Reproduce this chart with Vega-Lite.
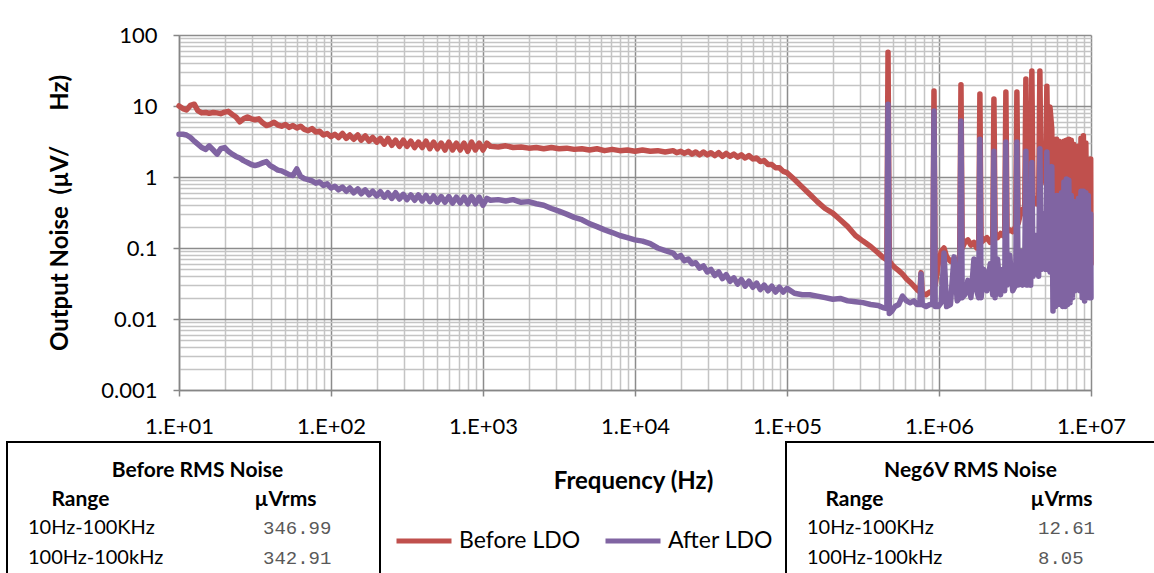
{
  "$schema": "https://vega.github.io/schema/vega-lite/v6.json",
  "background": "#ffffff",
  "autosize": {"type": "pad"},
  "padding": {"left": 6, "top": 24, "right": 0, "bottom": 0},
  "config": {
    "font": "Lato",
    "view": {"stroke": null},
    "axis": {"labelFont": "Lato", "titleFont": "Lato", "labelColor": "#000000", "titleColor": "#000000"}
  },
  "spacing": 4,
  "vconcat": [
    {
      "spacing": 72,
      "bounds": "flush",
      "hconcat": [
        {"width": 100, "height": 355, "data": {"values": []}, "mark": "point"},
        {
          "width": 912,
          "height": 355,
          "data": {"values": [
            {"f":10,"Before LDO":10.0,"After LDO":4.0},
            {"f":10.6,"Before LDO":9.2,"After LDO":4.0},
            {"f":11.2,"Before LDO":8.8,"After LDO":3.9},
            {"f":11.9,"Before LDO":10.2,"After LDO":3.6},
            {"f":12.6,"Before LDO":10.6,"After LDO":3.2},
            {"f":13.3,"Before LDO":8.6,"After LDO":2.9},
            {"f":14.1,"Before LDO":8.0,"After LDO":2.6},
            {"f":15.0,"Before LDO":8.1,"After LDO":2.45},
            {"f":15.8,"Before LDO":7.9,"After LDO":2.75},
            {"f":16.8,"Before LDO":8.1,"After LDO":2.4},
            {"f":17.8,"Before LDO":8.0,"After LDO":2.1},
            {"f":18.8,"Before LDO":7.8,"After LDO":2.5},
            {"f":20.0,"Before LDO":8.2,"After LDO":2.6},
            {"f":21.1,"Before LDO":8.4,"After LDO":2.3},
            {"f":22.4,"Before LDO":7.6,"After LDO":2.1},
            {"f":23.7,"Before LDO":7.0,"After LDO":1.95},
            {"f":25.1,"Before LDO":6.0,"After LDO":1.85},
            {"f":26.6,"Before LDO":6.6,"After LDO":1.7},
            {"f":28.2,"Before LDO":7.0,"After LDO":1.6},
            {"f":29.9,"Before LDO":6.6,"After LDO":1.5},
            {"f":31.6,"Before LDO":6.4,"After LDO":1.45},
            {"f":33.5,"Before LDO":6.6,"After LDO":1.5},
            {"f":35.5,"Before LDO":5.8,"After LDO":1.58},
            {"f":37.6,"Before LDO":5.3,"After LDO":1.65},
            {"f":39.8,"Before LDO":5.5,"After LDO":1.45},
            {"f":42.2,"Before LDO":5.9,"After LDO":1.35},
            {"f":44.7,"Before LDO":5.4,"After LDO":1.25},
            {"f":47.3,"Before LDO":5.2,"After LDO":1.22},
            {"f":50.1,"Before LDO":5.5,"After LDO":1.15},
            {"f":53.1,"Before LDO":5.0,"After LDO":1.08},
            {"f":56.2,"Before LDO":5.3,"After LDO":1.05},
            {"f":59.6,"Before LDO":4.9,"After LDO":1.3},
            {"f":63.1,"Before LDO":5.2,"After LDO":1.02},
            {"f":66.8,"Before LDO":4.7,"After LDO":0.95},
            {"f":70.8,"Before LDO":4.5,"After LDO":0.92},
            {"f":75.0,"Before LDO":4.8,"After LDO":0.88},
            {"f":79.4,"Before LDO":4.3,"After LDO":0.82},
            {"f":84.1,"Before LDO":4.4,"After LDO":0.85},
            {"f":89.1,"Before LDO":3.9,"After LDO":0.76},
            {"f":94.4,"Before LDO":4.1,"After LDO":0.8},
            {"f":100,"Before LDO":3.7,"After LDO":0.7},
            {"f":106,"Before LDO":4.0,"After LDO":0.74},
            {"f":112,"Before LDO":3.6,"After LDO":0.66},
            {"f":119,"Before LDO":4.1,"After LDO":0.72},
            {"f":126,"Before LDO":3.5,"After LDO":0.63},
            {"f":133,"Before LDO":3.9,"After LDO":0.7},
            {"f":141,"Before LDO":3.4,"After LDO":0.6},
            {"f":150,"Before LDO":3.9,"After LDO":0.68},
            {"f":158,"Before LDO":3.3,"After LDO":0.58},
            {"f":168,"Before LDO":3.8,"After LDO":0.66},
            {"f":178,"Before LDO":3.2,"After LDO":0.56},
            {"f":188,"Before LDO":3.6,"After LDO":0.63},
            {"f":200,"Before LDO":3.1,"After LDO":0.54},
            {"f":211,"Before LDO":3.5,"After LDO":0.62},
            {"f":224,"Before LDO":2.9,"After LDO":0.52},
            {"f":237,"Before LDO":3.5,"After LDO":0.6},
            {"f":251,"Before LDO":2.8,"After LDO":0.5},
            {"f":266,"Before LDO":3.3,"After LDO":0.6},
            {"f":282,"Before LDO":2.7,"After LDO":0.49},
            {"f":299,"Before LDO":3.3,"After LDO":0.57},
            {"f":316,"Before LDO":2.7,"After LDO":0.48},
            {"f":335,"Before LDO":3.2,"After LDO":0.56},
            {"f":355,"Before LDO":2.6,"After LDO":0.47},
            {"f":376,"Before LDO":3.1,"After LDO":0.56},
            {"f":398,"Before LDO":2.6,"After LDO":0.46},
            {"f":422,"Before LDO":3.2,"After LDO":0.55},
            {"f":447,"Before LDO":2.5,"After LDO":0.45},
            {"f":473,"Before LDO":3.1,"After LDO":0.54},
            {"f":501,"Before LDO":2.5,"After LDO":0.44},
            {"f":531,"Before LDO":3.0,"After LDO":0.53},
            {"f":562,"Before LDO":2.4,"After LDO":0.44},
            {"f":596,"Before LDO":3.1,"After LDO":0.53},
            {"f":631,"Before LDO":2.4,"After LDO":0.43},
            {"f":668,"Before LDO":3.0,"After LDO":0.52},
            {"f":708,"Before LDO":2.4,"After LDO":0.43},
            {"f":750,"Before LDO":3.0,"After LDO":0.52},
            {"f":794,"Before LDO":2.3,"After LDO":0.42},
            {"f":841,"Before LDO":3.1,"After LDO":0.53},
            {"f":891,"Before LDO":2.4,"After LDO":0.42},
            {"f":944,"Before LDO":3.0,"After LDO":0.52},
            {"f":1000,"Before LDO":2.4,"After LDO":0.4},
            {"f":1060,"Before LDO":3.0,"After LDO":0.5},
            {"f":1120,"Before LDO":2.7,"After LDO":0.47},
            {"f":1260,"Before LDO":2.65,"After LDO":0.48},
            {"f":1410,"Before LDO":2.75,"After LDO":0.46},
            {"f":1580,"Before LDO":2.6,"After LDO":0.48},
            {"f":1780,"Before LDO":2.65,"After LDO":0.44},
            {"f":2000,"Before LDO":2.55,"After LDO":0.45},
            {"f":2240,"Before LDO":2.6,"After LDO":0.42},
            {"f":2510,"Before LDO":2.5,"After LDO":0.4},
            {"f":2820,"Before LDO":2.6,"After LDO":0.36},
            {"f":3160,"Before LDO":2.5,"After LDO":0.33},
            {"f":3550,"Before LDO":2.55,"After LDO":0.3},
            {"f":3980,"Before LDO":2.45,"After LDO":0.27},
            {"f":4470,"Before LDO":2.5,"After LDO":0.25},
            {"f":5010,"Before LDO":2.4,"After LDO":0.22},
            {"f":5620,"Before LDO":2.5,"After LDO":0.2},
            {"f":6310,"Before LDO":2.35,"After LDO":0.18},
            {"f":7080,"Before LDO":2.45,"After LDO":0.165},
            {"f":7940,"Before LDO":2.35,"After LDO":0.15},
            {"f":8910,"Before LDO":2.4,"After LDO":0.14},
            {"f":10000,"Before LDO":2.3,"After LDO":0.13},
            {"f":11200,"Before LDO":2.4,"After LDO":0.125},
            {"f":12600,"Before LDO":2.3,"After LDO":0.115},
            {"f":14100,"Before LDO":2.35,"After LDO":0.1},
            {"f":15800,"Before LDO":2.25,"After LDO":0.092},
            {"f":17800,"Before LDO":2.35,"After LDO":0.085},
            {"f":18800,"Before LDO":2.2,"After LDO":0.074},
            {"f":20000,"Before LDO":2.3,"After LDO":0.078},
            {"f":21100,"Before LDO":2.15,"After LDO":0.066},
            {"f":22400,"Before LDO":2.3,"After LDO":0.07},
            {"f":23700,"Before LDO":2.1,"After LDO":0.06},
            {"f":25100,"Before LDO":2.25,"After LDO":0.062},
            {"f":26600,"Before LDO":2.05,"After LDO":0.052},
            {"f":28200,"Before LDO":2.25,"After LDO":0.056},
            {"f":29900,"Before LDO":2.05,"After LDO":0.046},
            {"f":31600,"Before LDO":2.2,"After LDO":0.05},
            {"f":33500,"Before LDO":2.0,"After LDO":0.041},
            {"f":35500,"Before LDO":2.2,"After LDO":0.046},
            {"f":37600,"Before LDO":1.95,"After LDO":0.037},
            {"f":39800,"Before LDO":2.15,"After LDO":0.042},
            {"f":42200,"Before LDO":1.95,"After LDO":0.034},
            {"f":44700,"Before LDO":2.1,"After LDO":0.038},
            {"f":47300,"Before LDO":1.9,"After LDO":0.031},
            {"f":50100,"Before LDO":2.05,"After LDO":0.036},
            {"f":53100,"Before LDO":1.85,"After LDO":0.029},
            {"f":56200,"Before LDO":2.0,"After LDO":0.034},
            {"f":59600,"Before LDO":1.8,"After LDO":0.028},
            {"f":63100,"Before LDO":1.85,"After LDO":0.032},
            {"f":66800,"Before LDO":1.65,"After LDO":0.026},
            {"f":70800,"Before LDO":1.7,"After LDO":0.03},
            {"f":75000,"Before LDO":1.5,"After LDO":0.025},
            {"f":79400,"Before LDO":1.5,"After LDO":0.029},
            {"f":84100,"Before LDO":1.35,"After LDO":0.024},
            {"f":89100,"Before LDO":1.35,"After LDO":0.028},
            {"f":94400,"Before LDO":1.2,"After LDO":0.024},
            {"f":100000,"Before LDO":1.15,"After LDO":0.027},
            {"f":112000,"Before LDO":0.92,"After LDO":0.023},
            {"f":126000,"Before LDO":0.72,"After LDO":0.022},
            {"f":141000,"Before LDO":0.57,"After LDO":0.022},
            {"f":158000,"Before LDO":0.45,"After LDO":0.021},
            {"f":178000,"Before LDO":0.36,"After LDO":0.02},
            {"f":200000,"Before LDO":0.31,"After LDO":0.019},
            {"f":224000,"Before LDO":0.25,"After LDO":0.0195},
            {"f":251000,"Before LDO":0.2,"After LDO":0.018},
            {"f":282000,"Before LDO":0.15,"After LDO":0.0175},
            {"f":316000,"Before LDO":0.125,"After LDO":0.017},
            {"f":355000,"Before LDO":0.105,"After LDO":0.016},
            {"f":398000,"Before LDO":0.085,"After LDO":0.0155},
            {"f":427000,"Before LDO":0.074,"After LDO":0.0145},
            {"f":454000,"Before LDO":0.068,"After LDO":0.014},
            {"f":462000,"Before LDO":57,"After LDO":10.6},
            {"f":471000,"Before LDO":0.066,"After LDO":0.012},
            {"f":490000,"Before LDO":0.058,"After LDO":0.013},
            {"f":513000,"Before LDO":0.053,"After LDO":0.015},
            {"f":543000,"Before LDO":0.048,"After LDO":0.016},
            {"f":575000,"Before LDO":0.043,"After LDO":0.021},
            {"f":610000,"Before LDO":0.037,"After LDO":0.018},
            {"f":646000,"Before LDO":0.033,"After LDO":0.017},
            {"f":684000,"Before LDO":0.029,"After LDO":0.018},
            {"f":716000,"Before LDO":0.026,"After LDO":0.016},
            {"f":748000,"Before LDO":0.024,"After LDO":0.016},
            {"f":762000,"Before LDO":0.045,"After LDO":0.043},
            {"f":776000,"Before LDO":0.023,"After LDO":0.016},
            {"f":822000,"Before LDO":0.022,"After LDO":0.015},
            {"f":871000,"Before LDO":0.024,"After LDO":0.016},
            {"f":910000,"Before LDO":0.024,"After LDO":0.016},
            {"f":927000,"Before LDO":16.3,"After LDO":8.5},
            {"f":944000,"Before LDO":0.03,"After LDO":0.015},
            {"f":989000,"Before LDO":0.06,"After LDO":0.015},
            {"f":1035000,"Before LDO":0.09,"After LDO":0.017},
            {"f":1079000,"Before LDO":0.1,"After LDO":0.085},
            {"f":1122000,"Before LDO":0.075,"After LDO":0.015},
            {"f":1189000,"Before LDO":0.065,"After LDO":0.016},
            {"f":1256000,"Before LDO":0.07,"After LDO":0.075},
            {"f":1318000,"Before LDO":0.06,"After LDO":0.018},
            {"f":1369000,"Before LDO":0.08,"After LDO":0.02},
            {"f":1395000,"Before LDO":20,"After LDO":6.15},
            {"f":1421000,"Before LDO":0.1,"After LDO":0.02},
            {"f":1479000,"Before LDO":0.12,"After LDO":0.022},
            {"f":1549000,"Before LDO":0.13,"After LDO":0.035},
            {"f":1622000,"Before LDO":0.11,"After LDO":0.02},
            {"f":1698000,"Before LDO":0.12,"After LDO":0.07},
            {"f":1770000,"Before LDO":0.1,"After LDO":0.025},
            {"f":1824000,"Before LDO":0.1,"After LDO":0.02},
            {"f":1858000,"Before LDO":14.7,"After LDO":3.4},
            {"f":1892000,"Before LDO":0.12,"After LDO":0.02},
            {"f":1972000,"Before LDO":0.13,"After LDO":0.05},
            {"f":2065000,"Before LDO":0.14,"After LDO":0.025},
            {"f":2173000,"Before LDO":0.12,"After LDO":0.06},
            {"f":2256000,"Before LDO":0.13,"After LDO":0.022},
            {"f":2298000,"Before LDO":12.5,"After LDO":2.3},
            {"f":2341000,"Before LDO":0.15,"After LDO":0.02},
            {"f":2427000,"Before LDO":0.14,"After LDO":0.07},
            {"f":2541000,"Before LDO":0.16,"After LDO":0.022},
            {"f":2630000,"Before LDO":0.15,"After LDO":0.05},
            {"f":2704000,"Before LDO":0.16,"After LDO":0.025},
            {"f":2754000,"Before LDO":15.7,"After LDO":3.1},
            {"f":2805000,"Before LDO":0.17,"After LDO":0.03},
            {"f":2917000,"Before LDO":0.18,"After LDO":0.08},
            {"f":3055000,"Before LDO":0.17,"After LDO":0.025},
            {"f":3195000,"Before LDO":0.2,"After LDO":0.03},
            {"f":3254000,"Before LDO":15.7,"After LDO":3.1},
            {"f":3315000,"Before LDO":0.22,"After LDO":0.03},
            {"f":3428000,"Before LDO":0.3,"After LDO":0.09},
            {"f":3548000,"Before LDO":0.35,"After LDO":0.03},
            {"f":3661000,"Before LDO":0.3,"After LDO":0.04},
            {"f":3729000,"Before LDO":24,"After LDO":2.3},
            {"f":3798000,"Before LDO":0.3,"After LDO":0.03},
            {"f":3899000,"Before LDO":0.4,"After LDO":0.1},
            {"f":4009000,"Before LDO":0.35,"After LDO":0.03},
            {"f":4083000,"Before LDO":31,"After LDO":1.6},
            {"f":4159000,"Before LDO":0.4,"After LDO":0.04},
            {"f":4335000,"Before LDO":0.5,"After LDO":0.15},
            {"f":4525000,"Before LDO":0.4,"After LDO":0.04},
            {"f":4609000,"Before LDO":31,"After LDO":2.5},
            {"f":4695000,"Before LDO":0.8,"After LDO":0.05},
            {"f":4864000,"Before LDO":1.5,"After LDO":0.3},
            {"f":5030000,"Before LDO":0.9,"After LDO":0.05},
            {"f":5124000,"Before LDO":19,"After LDO":2.25},
            {"f":5219000,"Before LDO":1.2,"After LDO":0.06},
            {"f":5370000,"Before LDO":9.7,"After LDO":0.046},
            {"f":5521000,"Before LDO":4.7,"After LDO":1.4},
            {"f":5623000,"Before LDO":0.07,"After LDO":0.013},
            {"f":5728000,"Before LDO":3.4,"After LDO":0.5},
            {"f":5834000,"Before LDO":0.06,"After LDO":0.015},
            {"f":5943000,"Before LDO":3.4,"After LDO":0.55},
            {"f":6053000,"Before LDO":0.05,"After LDO":0.016},
            {"f":6166000,"Before LDO":3.2,"After LDO":0.55},
            {"f":6281000,"Before LDO":0.05,"After LDO":0.016},
            {"f":6397000,"Before LDO":3.0,"After LDO":0.6},
            {"f":6516000,"Before LDO":0.05,"After LDO":0.015},
            {"f":6637000,"Before LDO":3.2,"After LDO":0.85},
            {"f":6761000,"Before LDO":0.05,"After LDO":0.015},
            {"f":6887000,"Before LDO":3.3,"After LDO":0.94},
            {"f":7015000,"Before LDO":0.05,"After LDO":0.016},
            {"f":7145000,"Before LDO":3.4,"After LDO":0.9},
            {"f":7278000,"Before LDO":0.05,"After LDO":0.017},
            {"f":7413000,"Before LDO":3.3,"After LDO":0.55},
            {"f":7551000,"Before LDO":0.05,"After LDO":0.02},
            {"f":7691000,"Before LDO":2.9,"After LDO":0.45},
            {"f":7834000,"Before LDO":0.05,"After LDO":0.025},
            {"f":7980000,"Before LDO":2.7,"After LDO":0.4},
            {"f":8128000,"Before LDO":0.05,"After LDO":0.03},
            {"f":8279000,"Before LDO":2.7,"After LDO":0.5},
            {"f":8433000,"Before LDO":0.05,"After LDO":0.025},
            {"f":8590000,"Before LDO":3.5,"After LDO":0.63},
            {"f":8750000,"Before LDO":0.05,"After LDO":0.02},
            {"f":8913000,"Before LDO":3.8,"After LDO":0.63},
            {"f":9078000,"Before LDO":0.05,"After LDO":0.018},
            {"f":9247000,"Before LDO":3.0,"After LDO":0.6},
            {"f":9419000,"Before LDO":0.05,"After LDO":0.02},
            {"f":9594000,"Before LDO":1.6,"After LDO":0.55},
            {"f":9772000,"Before LDO":0.05,"After LDO":0.02},
            {"f":9954000,"Before LDO":1.8,"After LDO":0.3},
            {"f":10000000,"Before LDO":0.06,"After LDO":0.02}
          ]},
          "transform": [{"fold": ["Before LDO", "After LDO"], "as": ["series", "noise"]}],
          "encoding": {
            "x": {
              "field": "f", "type": "quantitative", "title": null,
              "scale": {"type": "log", "domain": [10, 10000000], "nice": false},
              "axis": {
                "values": [10,20,30,40,50,60,70,80,90,100,200,300,400,500,600,700,800,900,1000,2000,3000,4000,5000,6000,7000,8000,9000,10000,20000,30000,40000,50000,60000,70000,80000,90000,100000,200000,300000,400000,500000,600000,700000,800000,900000,1000000,2000000,3000000,4000000,5000000,6000000,7000000,8000000,9000000,10000000],
                "labelExpr": "indexof([10,100,1000,10000,100000,1000000,10000000], datum.value) >= 0 ? '1.E+0' + round(log(datum.value)/LN10) : ''",
                "labelOverlap": false, "labelFlush": false,
                "labelFontSize": 22, "labelPadding": 20,
                "tickSize": 6, "tickColor": "#868686", "tickWidth": 1.5,
                "tickOpacity": {"condition": {"test": "indexof([10,100,1000,10000,100000,1000000,10000000], datum.value) >= 0", "value": 1}, "value": 0},
                "grid": true,
                "gridColor": {"condition": {"test": "indexof([10,100,1000,10000,100000,1000000,10000000], datum.value) >= 0", "value": "#8C8C8C"}, "value": "#C4C4C4"},
                "gridWidth": 1.5, "gridOpacity": 1,
                "domainColor": "#868686", "domainWidth": 1.5
              }
            },
            "y": {
              "field": "noise", "type": "quantitative", "title": "Output Noise \u00a0(µV/\u00a0\u00a0\u00a0\u00a0\u00a0\u00a0Hz)",
              "scale": {"type": "log", "domain": [0.001, 100], "nice": false},
              "axis": {
                "values": [0.001,0.002,0.003,0.004,0.005,0.006,0.007,0.008,0.009,0.01,0.02,0.03,0.04,0.05,0.06,0.07,0.08,0.09,0.1,0.2,0.3,0.4,0.5,0.6,0.7,0.8,0.9,1,2,3,4,5,6,7,8,9,10,20,30,40,50,60,70,80,90,100],
                "labelExpr": "indexof([0.001,0.01,0.1,1,10,100], datum.value) >= 0 ? toString(datum.value) : ''",
                "labelOverlap": false, "labelFlush": false,
                "labelFontSize": 22, "labelPadding": 16,
                "tickSize": 6, "tickColor": "#868686", "tickWidth": 1.5,
                "tickOpacity": {"condition": {"test": "indexof([0.001,0.01,0.1,1,10,100], datum.value) >= 0", "value": 1}, "value": 0},
                "grid": true,
                "gridColor": {"condition": {"test": "indexof([0.001,0.01,0.1,1,10,100], datum.value) >= 0", "value": "#8C8C8C"}, "value": "#C4C4C4"},
                "gridWidth": 1.5, "gridOpacity": 1,
                "domainColor": "#868686", "domainWidth": 1.5,
                "titleFontSize": 24, "titleFontWeight": "bold", "titlePadding": 28
              }
            },
            "color": {
              "field": "series", "type": "nominal",
              "scale": {"domain": ["Before LDO", "After LDO"], "range": ["#C0504D", "#8064A2"]},
              "legend": {
                "title": null, "orient": "none", "direction": "horizontal",
                "legendX": 387, "legendY": 476, "padding": 0,
                "symbolType": "stroke", "symbolSize": 3025, "symbolStrokeWidth": 5,
                "labelFont": "Lato", "labelFontSize": 23, "labelColor": "#000000",
                "labelOffset": 5, "columnPadding": 14
              }
            }
          },
          "layer": [
            {"transform": [{"filter": "datum.series === 'Before LDO'"}], "mark": {"type": "line", "strokeWidth": 5.5, "strokeJoin": "round", "strokeCap": "round"}},
            {"transform": [{"filter": "datum.series === 'After LDO'"}], "mark": {"type": "line", "strokeWidth": 5.5, "strokeJoin": "round", "strokeCap": "round"}}
          ]
        }
      ]
    },
    {
      "spacing": 0,
      "bounds": "flush",
      "hconcat": [
        {
          "width": 373, "height": 140,
          "view": {"stroke": "#000000", "strokeWidth": 2},
          "data": {"values": [
            {"range": "10Hz-100KHz", "uvrms": 346.99},
            {"range": "100Hz-100kHz", "uvrms": 342.91}
          ]},
          "encoding": {
            "y": {"field": "range", "type": "nominal", "scale": {"type": "point", "padding": 0, "domain": ["10Hz-100KHz", "100Hz-100kHz"], "range": [86, 116]}, "axis": null}
          },
          "layer": [
            {
              "mark": {"type": "text", "align": "left", "baseline": "middle", "dx": -52, "font": "Lato", "fontSize": 20, "color": "#000000"},
              "encoding": {
                "x": {"datum": "Range", "type": "nominal",
                  "scale": {"type": "point", "padding": 0, "domain": ["Range", "µVrms"], "range": [73, 278]},
                  "axis": {"orient": "top", "title": "Before RMS Noise", "domain": false, "ticks": false, "labelAngle": 0,
                    "labelFont": "Lato", "labelFontSize": 21, "labelFontWeight": "bold", "labelBaseline": "middle", "labelPadding": 0,
                    "offset": -57, "titleFont": "Lato", "titleFontSize": 21, "titleFontWeight": "bold", "titleX": 190, "titleY": -29, "titleBaseline": "middle", "titleAnchor": "middle"}},
                "text": {"field": "range"}
              }
            },
            {
              "mark": {"type": "text", "align": "left", "baseline": "middle", "dx": -22, "font": "Liberation Mono", "fontSize": 19, "color": "#595959"},
              "encoding": {
                "x": {"datum": "µVrms", "type": "nominal"},
                "text": {"field": "uvrms", "format": ".2f"}
              }
            }
          ]
        },
        {
          "width": 406, "height": 140,
          "data": {"values": []},
          "mark": "point",
          "encoding": {
            "x": {"field": "f", "type": "quantitative",
              "axis": {"orient": "top", "title": "Frequency (Hz)", "labels": false, "ticks": false, "domain": false, "grid": false,
                "titleFont": "Lato", "titleFontSize": 24, "titleFontWeight": "bold", "titleColor": "#000000",
                "titleX": 253, "titleY": 39, "titleBaseline": "middle", "titleAnchor": "middle"}}
          }
        },
        {
          "width": 380, "height": 140,
          "view": {"stroke": "#000000", "strokeWidth": 2},
          "data": {"values": [
            {"range": "10Hz-100KHz", "uvrms": 12.61},
            {"range": "100Hz-100kHz", "uvrms": 8.05}
          ]},
          "encoding": {
            "y": {"field": "range", "type": "nominal", "scale": {"type": "point", "padding": 0, "domain": ["10Hz-100KHz", "100Hz-100kHz"], "range": [86, 116]}, "axis": null}
          },
          "layer": [
            {
              "mark": {"type": "text", "align": "left", "baseline": "middle", "dx": -47, "font": "Lato", "fontSize": 20, "color": "#000000"},
              "encoding": {
                "x": {"datum": "Range", "type": "nominal",
                  "scale": {"type": "point", "padding": 0, "domain": ["Range", "µVrms"], "range": [68, 275]},
                  "axis": {"orient": "top", "title": "Neg6V RMS Noise", "domain": false, "ticks": false, "labelAngle": 0,
                    "labelFont": "Lato", "labelFontSize": 21, "labelFontWeight": "bold", "labelBaseline": "middle", "labelPadding": 0,
                    "offset": -57, "titleFont": "Lato", "titleFontSize": 21, "titleFontWeight": "bold", "titleX": 184, "titleY": -29, "titleBaseline": "middle", "titleAnchor": "middle"}},
                "text": {"field": "range"}
              }
            },
            {
              "mark": {"type": "text", "align": "left", "baseline": "middle", "dx": -23, "font": "Liberation Mono", "fontSize": 19, "color": "#595959"},
              "encoding": {
                "x": {"datum": "µVrms", "type": "nominal"},
                "text": {"field": "uvrms", "format": ".2f"}
              }
            }
          ]
        }
      ]
    }
  ]
}
